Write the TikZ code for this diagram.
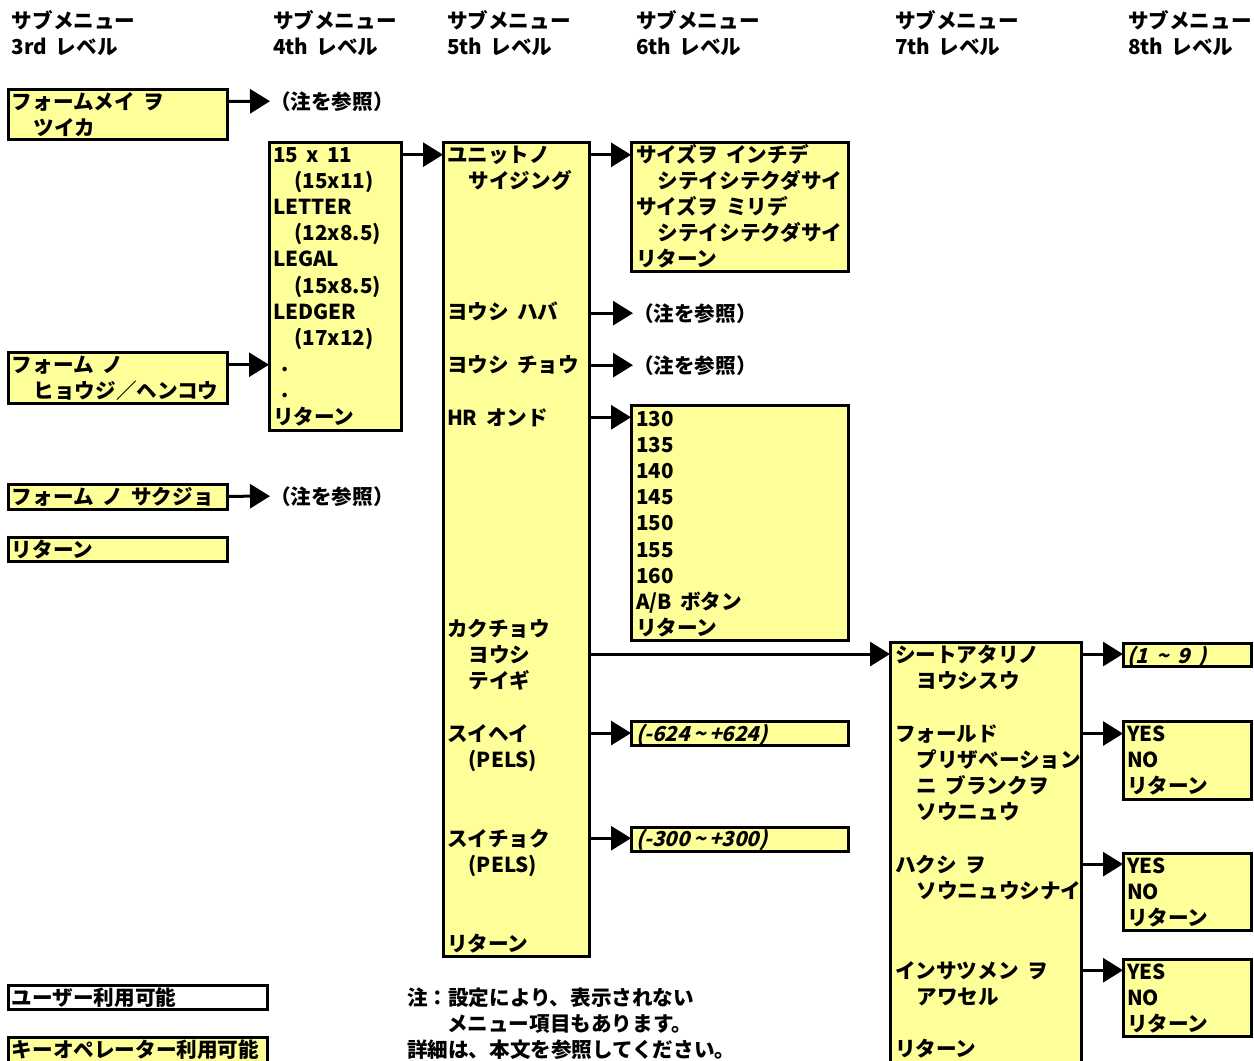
\documentclass[tikz,border=0pt]{standalone}
\usepackage{fontspec}
\setmainfont{Noto Sans CJK JP}[WordSpace=1.8]
\newfontfamily\slantfont{Noto Sans CJK JP}[FakeSlant=0.25,WordSpace=1.8]
\usetikzlibrary{arrows.meta,calc}
\definecolor{menuyellow}{RGB}{255,255,153}
\tikzset{
  box/.style={draw=black, line width=3pt, anchor=north west, inner sep=0pt, outer sep=0pt},
  txt/.style={anchor=base west, inner sep=0pt, outer sep=0pt, font=\fontsize{20.6}{26}\selectfont\bfseries},
  arr/.style={line width=3pt, -{Triangle[length=20pt,width=24pt]}},
}
\newcommand\ind{\hspace*{1.05em}}
\newcommand\menubox[6][menuyellow]{\node[box, fill=#1, minimum width={#5-#3}, minimum height={#6-#4}] (#2) at (#3,#4) {};}
\newcommand\txtlines[4]{\foreach \t [count=\i] in {#4} {\node[txt] (#1-\i) at (#2,{#3+8+(\i-1)*26.2}) {\t};}}
\begin{document}
\begin{tikzpicture}[x=1pt,y=-1pt]
\useasboundingbox (0,0) rectangle (1254,1061);
\clip (0,0) rectangle (1254,1061);
% headers
\txtlines{h3}{12}{20}{サブメニュー,3rd レベル}
\txtlines{h4}{273}{20}{サブメニュー,4th レベル}
\txtlines{h5}{447}{20}{サブメニュー,5th レベル}
\txtlines{h6}{636}{20}{サブメニュー,6th レベル}
\txtlines{h7}{895}{20}{サブメニュー,7th レベル}
\txtlines{h8}{1128}{20}{サブメニュー,8th レベル}
% boxes
\menubox{bA}{8}{89}{227}{139}
\menubox{b4}{269}{142}{401}{430}
\menubox{bB}{8}{352}{227}{403}
\menubox{bC}{8}{484}{227}{509}
\menubox{bD}{8}{537}{227}{561}
\menubox{b5}{443}{142}{589}{956}
\menubox{b6a}{631}{142}{848}{271}
\menubox{b6b}{631}{405}{848}{640}
\menubox{b6c}{631}{721}{848}{745}
\menubox{b6d}{631}{827}{848}{851}
\menubox{b7}{890}{642}{1081}{1080}
\menubox{b8a}{1123}{643}{1251}{666}
\menubox{b8b}{1123}{721}{1251}{799}
\menubox{b8c}{1123}{853}{1251}{930}
\menubox{b8d}{1123}{959}{1251}{1036}
\menubox[white]{lgU}{8}{985}{267}{1009}
\menubox{lgK}{8}{1037}{267}{1080}
% 3rd level texts
\txtlines{tA}{12}{101}{フォームメイ ヲ,\ind ツイカ}
\txtlines{tB}{12}{364}{フォーム ノ,\ind ヒョウジ／ヘンコウ}
\txtlines{tC}{12}{496}{フォーム ノ サクジョ}
\txtlines{tD}{12}{549}{リターン}
\txtlines{nA}{270}{101}{（注を参照）}
\txtlines{nC}{270}{496}{（注を参照）}
% 4th level
\txtlines{t4}{273}{154}{15 x 11,\ind (15x11),LETTER,\ind (12x8.5),LEGAL,\ind (15x8.5),LEDGER,\ind (17x12),\ .,\ .,リターン}
% 5th level
\txtlines{s1}{447}{154}{ユニットノ,\ind サイジング}
\txtlines{s2}{447}{311}{ヨウシ ハバ}
\txtlines{s3}{447}{364}{ヨウシ チョウ}
\txtlines{s4}{447}{417}{HR オンド}
\txtlines{s5}{447}{628}{カクチョウ,\ind ヨウシ,\ind テイギ}
\txtlines{s6}{447}{733}{スイヘイ,\ind (PELS)}
\txtlines{s7}{447}{838}{スイチョク,\ind (PELS)}
\txtlines{s8}{447}{943}{リターン}
% 6th level
\txtlines{u1}{636}{154}{サイズヲ インチデ,\ind シテイシテクダサイ,サイズヲ ミリデ,\ind シテイシテクダサイ,リターン}
\txtlines{n2}{633}{313}{（注を参照）}
\txtlines{n3}{633}{365}{（注を参照）}
\txtlines{u2}{636}{418}{130,135,140,145,150,155,160,A/B ボタン,リターン}
\node[txt] (u3) at (636,741) {\slantfont (-624\,\textasciitilde\,+624)};
\node[txt] (u4) at (636,846) {\slantfont (-300\,\textasciitilde\,+300)};
% 7th level
\txtlines{v1}{895}{654}{シートアタリノ,\ind ヨウシスウ}
\txtlines{v2}{895}{733}{フォールド,\ind プリザベーション,\ind ニ ブランクヲ,\ind ソウニュウ}
\txtlines{v3}{895}{864}{ハクシ ヲ,\ind ソウニュウシナイ}
\txtlines{v4}{895}{970}{インサツメン ヲ,\ind アワセル}
\txtlines{v5}{895}{1048}{リターン}
% 8th level
\node[txt] (w1) at (1127,663) {\slantfont (1 \textasciitilde\ 9 )};
\txtlines{w2}{1127}{733}{YES,NO,リターン}
\txtlines{w3}{1127}{865}{YES,NO,リターン}
\txtlines{w4}{1127}{971}{YES,NO,リターン}
% legend and note
\txtlines{lU}{12}{997}{ユーザー利用可能}
\txtlines{lK}{12}{1049}{キーオペレーター利用可能}
\node[txt] (note1) at (407,1005) {注：設定により、表示されない};
\node[txt] (note2) at (447,1031) {メニュー項目もあります。};
\node[txt] (note3) at (407,1057) {詳細は、本文を参照してください。};
% arrows
\draw[arr] (bA.east |- tA-1.west) -- (nA-1.west);
\draw[arr] (bB.east |- tB-1.west) -- (b4.west |- tB-1.west);
\draw[arr] (bC.east |- tC-1.west) -- (nC-1.west);
\draw[arr] (b4.east |- t4-1.west) -- (b5.west |- t4-1.west);
\draw[arr] (b5.east |- s1-1.west) -- (b6a.west |- s1-1.west);
\draw[arr] (b5.east |- n2-1.west) -- (n2-1.west);
\draw[arr] (b5.east |- n3-1.west) -- (n3-1.west);
\draw[arr] (b5.east |- s4-1.west) -- (b6b.west |- s4-1.west);
\draw[arr] (b5.east |- v1-1.west) -- (b7.west |- v1-1.west);
\draw[arr] (b5.east |- s6-1.west) -- (b6c.west |- s6-1.west);
\draw[arr] (b5.east |- s7-1.west) -- (b6d.west |- s7-1.west);
\draw[arr] (b7.east |- v1-1.west) -- (b8a.west |- v1-1.west);
\draw[arr] (b7.east |- v2-1.west) -- (b8b.west |- v2-1.west);
\draw[arr] (b7.east |- v3-1.west) -- (b8c.west |- v3-1.west);
\draw[arr] (b7.east |- v4-1.west) -- (b8d.west |- v4-1.west);
\end{tikzpicture}
\end{document}
